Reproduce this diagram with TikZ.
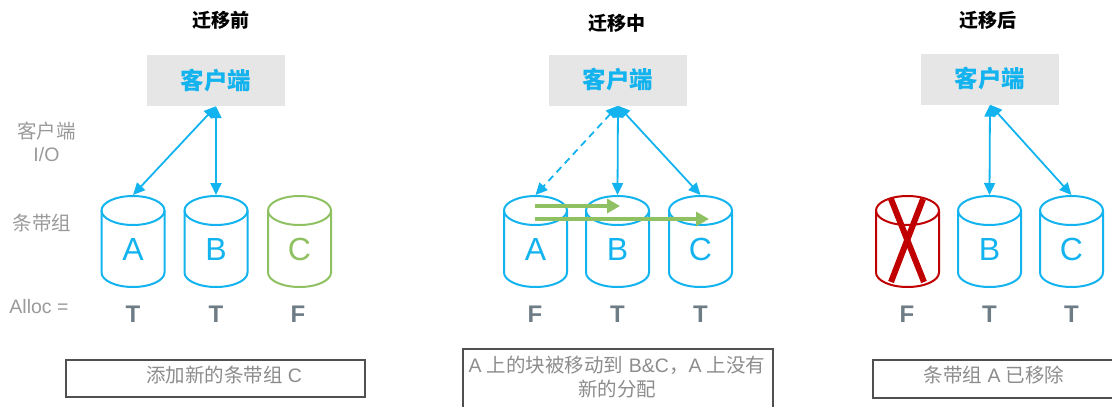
\documentclass[tikz,border=0pt]{standalone}
\usepackage{fontspec}
\setmainfont{Liberation Sans}
\newfontfamily\cjk{Noto Sans CJK SC}
\usetikzlibrary{arrows.meta}
\definecolor{cyanB}{HTML}{12B3EE}
\definecolor{greenC}{HTML}{8FC163}
\definecolor{redX}{HTML}{C00000}
\definecolor{tgray}{HTML}{6E7C86}
\definecolor{labgray}{HTML}{9A9A9A}
\definecolor{notegray}{HTML}{8C8C8C}
\definecolor{boxgray}{HTML}{505050}
\definecolor{clientgray}{HTML}{E6E6E6}
\tikzset{
  client/.style={fill=clientgray, minimum width=138pt, minimum height=51pt, inner sep=0pt, text=cyanB, font=\cjk\bfseries\fontsize{23.5}{26}\selectfont},
  ptitle/.style={inner sep=0pt, font=\cjk\bfseries\fontsize{19}{22}\selectfont},
  sidelabel/.style={inner sep=0pt, text=labgray, font=\fontsize{19.5}{24}\selectfont},
  letter/.style={inner sep=0pt, font=\fontsize{32}{36}\selectfont},
  alloc/.style={inner sep=0pt, text=tgray, font=\bfseries\fontsize{24}{28}\selectfont},
  notebox/.style={draw=boxgray, line width=2pt, inner sep=0pt},
  notetext/.style={inner sep=0pt, text=notegray, font=\fontsize{19.5}{24}\selectfont, align=center},
  link/.style={cyanB, line width=1.8pt, {Triangle[length=12pt,width=11pt]}-{Triangle[length=12pt,width=11pt]}},
  dlink/.style={link, dash pattern=on 7pt off 5pt},
  move/.style={greenC, line width=4pt, -{Triangle[length=13pt,width=14pt]}},
  cylline/.style={line width=2pt},
}
% #1 name, #2 center x, #3 colour, #4 letter
\newcommand\mycyl[4]{%
  \draw[cylline,#3] (#2,210.5) ellipse [x radius=31.5pt, y radius=14.5pt];
  \draw[cylline,#3] (#2-31.5,210.5) -- (#2-31.5,272.5) arc[start angle=180, end angle=360, x radius=31.5pt, y radius=14.5pt] -- (#2+31.5,210.5);
  \node[letter, text=#3] (#1) at (#2,249) {#4};
  \coordinate (#1t) at (#2,195);
}
\begin{document}
\begin{tikzpicture}[x=1pt,y=-1pt]
\useasboundingbox (0,0) rectangle (1112,407);
\clip (0,0) rectangle (1112,407);

% side labels
\node[sidelabel] (l1) at (46.5,131) {\cjk 客户端};
\node[sidelabel] (l2) at (46.5,155) {I/O};
\node[sidelabel] (l3) at (42,223) {\cjk 条带组};
\node[sidelabel] (l4) at (39,307) {Alloc =};

% ---------- panel 1 ----------
\node[ptitle] (t1) at (221,20) {迁移前};
\node[client] (c1) at (216,80.5) {客户端};
\mycyl{a1}{133}{cyanB}{A}
\mycyl{b1}{216}{cyanB}{B}
\mycyl{cc1}{299.5}{greenC}{C}
\draw[link] (c1.south) -- (a1t);
\draw[link] (c1.south) -- (b1t);
\node[alloc] (f1a) at (133,314) {T};
\node[alloc] (f1b) at (216,314) {T};
\node[alloc] (f1c) at (298,314) {F};
\node[notebox, minimum width=299pt, minimum height=37pt] (n1) at (215.5,378.5) {};
\node[notetext] (n1t) at (224,375.5) {{\cjk 添加新的条带组} C};

% ---------- panel 2 ----------
\node[ptitle] (t2) at (617,23) {迁移中};
\node[client] (c2) at (618,80) {客户端};
\mycyl{a2}{535.5}{cyanB}{A}
\mycyl{b2}{617.5}{cyanB}{B}
\mycyl{cc2}{700.5}{cyanB}{C}
\draw[dlink] (c2.south) -- (a2t);
\draw[link] (c2.south) -- (b2t);
\draw[link] (c2.south) -- (cc2t);
\coordinate (g1s) at (535,206);
\coordinate (g1e) at (620,206);
\coordinate (g2s) at (535,219);
\coordinate (g2e) at (709,219);
\draw[move] (g1s) -- (g1e);
\draw[move] (g2s) -- (g2e);
\node[alloc] (f2a) at (535,314) {F};
\node[alloc] (f2b) at (617.5,314) {T};
\node[alloc] (f2c) at (700.5,314) {T};
\node[notebox, minimum width=310pt, minimum height=80pt, anchor=north] (n2) at (618,348) {};
\node[notetext] (n2t1) at (617,365) {A {\cjk 上的块被移动到} B\&C{\cjk ，}A {\cjk 上没有}};
\node[notetext] (n2t2) at (617,389.5) {\cjk 新的分配};

% ---------- panel 3 ----------
\node[ptitle] (t3) at (988,20.5) {迁移后};
\node[client] (c3) at (990,79) {客户端};
\mycyl{a3}{907.5}{redX}{}
\mycyl{b3}{989.5}{cyanB}{B}
\mycyl{cc3}{1071.5}{cyanB}{C}
\coordinate (x1) at (891,199);
\coordinate (x2) at (924,282);
\coordinate (x3) at (923,199);
\coordinate (x4) at (891,282);
\draw[redX, line width=6pt] (x1) -- (x2);
\draw[redX, line width=6pt] (x3) -- (x4);
\draw[link] (c3.south) -- (b3t);
\draw[link] (c3.south) -- (cc3t);
\node[alloc] (f3a) at (907,314) {F};
\node[alloc] (f3b) at (989.5,314) {T};
\node[alloc] (f3c) at (1071.5,314) {T};
\node[notebox, minimum width=300pt, minimum height=38pt, anchor=north west] (n3) at (872,359) {};
\node[notetext] (n3t) at (994,375) {{\cjk 条带组} A {\cjk 已移除}};
\end{tikzpicture}
\end{document}
